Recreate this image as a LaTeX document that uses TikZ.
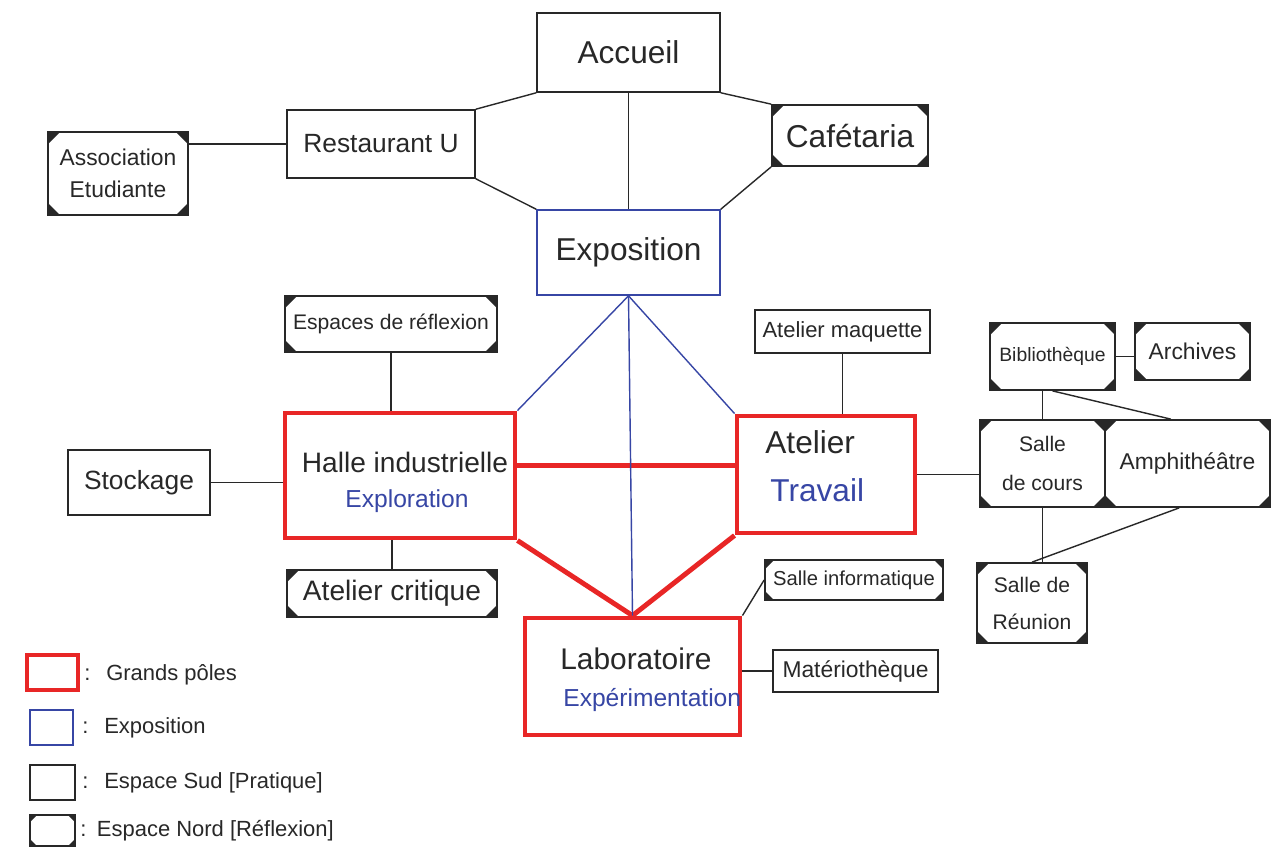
\documentclass[tikz,border=0pt]{standalone}
\usepackage{fontspec}
\setmainfont{Liberation Sans}
\usetikzlibrary{calc}
\definecolor{ink}{RGB}{40,40,40}
\definecolor{polered}{RGB}{232,38,38}
\definecolor{expoblue}{RGB}{55,70,165}
\newcommand{\fsz}[1]{\fontsize{#1pt}{#1pt}\selectfont}
% \bx{name}{style}{x1}{y1}{x2}{y2}{text}
\newcommand{\bx}[7]{%
  \pgfmathsetmacro{\bxw}{(#5-#3)*0.02}%
  \pgfmathsetmacro{\bxh}{(#6-#4)*0.02}%
  \node[#2, minimum width=\bxw cm, minimum height=\bxh cm] (#1) at ({(#3+#5)/2},{(#4+#6)/2}) {#7};}
\tikzset{
  box/.style={inner sep=0pt, text=ink, align=center},
  sud/.style={box, draw=ink, line width=0.9pt},
  nordbox/.style={box, draw=ink, line width=1pt, path picture={
    \fill[ink] (path picture bounding box.north west) -- ++(#1,0) -- ++(-#1,-#1) -- cycle;
    \fill[ink] (path picture bounding box.north east) -- ++(-#1,0) -- ++(#1,-#1) -- cycle;
    \fill[ink] (path picture bounding box.south west) -- ++(#1,0) -- ++(-#1,#1) -- cycle;
    \fill[ink] (path picture bounding box.south east) -- ++(-#1,0) -- ++(#1,#1) -- cycle;
  }},
  nordbox/.default=0.24cm,
  expobox/.style={box, draw=expoblue, line width=0.9pt},
  polebox/.style={box, draw=polered, line width=2.8pt},
  txt/.style={inner sep=0pt, text=ink},
  bluetxt/.style={inner sep=0pt, text=expoblue},
  link/.style={draw=ink, line width=0.8pt},
  redlink/.style={draw=polered, line width=2.8pt},
  bluelink/.style={draw=expoblue, line width=0.8pt},
}
\begin{document}
\begin{tikzpicture}[x=0.02cm, y=-0.02cm]
\useasboundingbox[fill=white] (0,0) rectangle (1287,850);

% top group
\bx{acc}{sud, font=\fsz{18}}{537}{13}{720}{92}{Accueil}
\bx{rest}{sud, font=\fsz{15}}{287}{110}{475}{178}{Restaurant U}
\bx{assoc}{nordbox, font=\fontsize{13pt}{18pt}\selectfont}{48}{132}{188}{215}{Association\\Etudiante}
\bx{caf}{nordbox, font=\fsz{18}}{772}{105}{928}{166}{Cafétaria}
\bx{expo}{expobox, font=\fsz{18}}{537}{210}{720}{295}{Exposition}

% left group
\bx{esp}{nordbox, font=\fsz{12}}{285}{296}{497}{352}{Espaces de réflexion}
\bx{halle}{polebox}{285}{413}{515}{538}{}
\node[txt, font=\fsz{16}] (halle1) at (405,462) {Halle industrielle};
\node[bluetxt, font=\fsz{14}] (halle2) at (407,501) {Exploration};
\bx{stock}{sud, font=\fsz{15}}{68}{450}{210}{515}{Stockage}
\bx{crit}{nordbox, font=\fsz{16}}{287}{570}{497}{617}{Atelier critique}

% middle right group
\bx{mq}{sud, font=\fsz{12.5}}{755}{310}{930}{353}{Atelier maquette}
\bx{atel}{polebox}{737}{416}{915}{533}{}
\node[txt, font=\fsz{18}, anchor=west] (atel1) at (765,442) {Atelier};
\node[bluetxt, font=\fsz{18}, anchor=west] (atel2) at (770,490) {Travail};

% bottom group
\bx{labo}{polebox}{525}{618}{740}{735}{}
\node[txt, font=\fsz{17}, anchor=west] (labo1) at (560,659) {Laboratoire};
\node[bluetxt, font=\fsz{14}, anchor=west] (labo2) at (563,700) {Expérimentation};
\bx{info}{nordbox=0.18cm, font=\fsz{11.5}}{765}{560}{943}{600}{Salle informatique}
\bx{mat}{sud, font=\fsz{13}}{773}{650}{938}{692}{Matériothèque}

% right group
\bx{bib}{nordbox, font=\fsz{11}}{990}{323}{1115}{390}{Bibliothèque}
\bx{arch}{nordbox, font=\fsz{13}}{1135}{323}{1250}{380}{Archives}
\bx{cours}{nordbox, font=\fontsize{12pt}{22pt}\selectfont}{980}{420}{1105}{507}{Salle\\de cours}
\bx{amphi}{nordbox, font=\fsz{13}}{1105}{420}{1270}{507}{Amphithéâtre}
\bx{reun}{nordbox, font=\fontsize{12pt}{21pt}\selectfont}{977}{563}{1087}{643}{Salle de\\Réunion}

% connectors top
\draw[link] (acc.south west) -- (rest.north east);
\draw[link] (rest.south east) -- (expo.north west);
\draw[link] (acc.south east) -- (caf.north west);
\draw[link] (caf.south west) -- (expo.north east);
\draw[link] (acc.south) -- (expo.north);
\draw[link] (rest.west) -- (rest.west -| assoc.east);

% connectors left
\draw[link] (esp.south) -- (esp.south |- halle.north);
\draw[link] (stock.east) -- (stock.east -| halle.west);
\draw[link] (crit.north) -- (crit.north |- halle.south);

% poles
\coordinate (hr) at ($(halle.north east)!0.42!(halle.south east)$);
\draw[redlink] (hr) -- (hr -| atel.west);
\draw[redlink] (halle.south east) -- (labo.north);
\draw[redlink] (atel.south west) -- (labo.north);
\draw[bluelink] (expo.south) -- (halle.north east);
\draw[bluelink] (expo.south) -- (labo.north);
\draw[bluelink] (expo.south) -- (atel.north west);

% connectors right
\draw[link] (mq.south) -- (mq.south |- atel.north);
\draw[link] (atel.east) -- (atel.east -| cours.west);
\draw[link] (labo.north east) -- (info.west);
\draw[link] (mat.west -| labo.east) -- (mat.west);
\draw[link] (bib.east) -- (bib.east -| arch.west);
\draw[link] (cours.north |- bib.south) -- (cours.north);
\draw[link] (bib.south) -- ($(amphi.north west)!0.4!(amphi.north east)$);
\draw[link] (cours.south) -- (cours.south |- reun.north);
\draw[link] ($(amphi.south west)!0.45!(amphi.south east)$) -- (reun.north);

% legend
\bx{lg1}{polebox}{27}{655}{78}{690}{}
\node[txt, font=\fsz{12.5}, anchor=west] (lg1t) at (84,675) {:\hspace{9pt}Grands pôles};
\bx{lg2}{expobox}{30}{710}{73}{745}{}
\node[txt, font=\fsz{12.5}, anchor=west] (lg2t) at (82,728) {:\hspace{9pt}Exposition};
\bx{lg3}{sud}{30}{765}{75}{800}{}
\node[txt, font=\fsz{12.5}, anchor=west] (lg3t) at (82,783) {:\hspace{9pt}Espace Sud [Pratique]};
\bx{lg4}{nordbox=0.14cm}{30}{815}{75}{846}{}
\node[txt, font=\fsz{12.5}, anchor=west] (lg4t) at (80,831) {:\hspace{6pt}Espace Nord [Réflexion]};
\end{tikzpicture}
\end{document}
